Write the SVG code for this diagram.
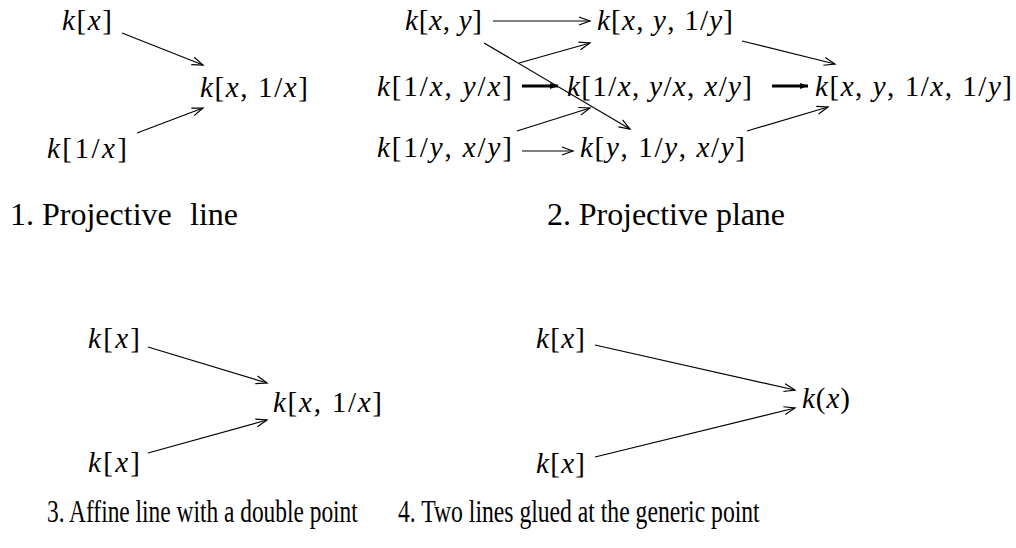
<svg xmlns="http://www.w3.org/2000/svg" width="1016" height="548" viewBox="0 0 1016 548">
<style>
text{font-family:"Liberation Serif","Times New Roman",serif;fill:#000}
.m{font-size:29px}
.i{font-style:italic}
.cap{font-size:32px}
.cap2{font-size:31px}
.c{fill:none;stroke:#000;stroke-width:1.2}
.t{fill:none;stroke:#000;stroke-width:3}
</style>
<defs>
<marker id="a" markerUnits="userSpaceOnUse" markerWidth="16" markerHeight="12" viewBox="-13 -6 16 12" refX="0" refY="0" orient="auto">
<path d="M-11,-4 L0,0 L-11,4" fill="none" stroke="#000" stroke-width="1.2"/>
</marker>
<marker id="b" markerUnits="userSpaceOnUse" markerWidth="14" markerHeight="12" viewBox="-10 -6 12 12" refX="0" refY="0" orient="auto">
<path d="M-8,-3 L0,0 L-8,3 Z" fill="#000"/>
</marker>
</defs>
<g id="p1">
<g id="n1a"><text class="m" x="62" y="30" textLength="50"><tspan class="i">k</tspan>[<tspan class="i">x</tspan>]</text></g>
<g id="n1b"><text class="m" x="200" y="97" textLength="108"><tspan class="i">k</tspan>[<tspan class="i">x</tspan>, 1/<tspan class="i">x</tspan>]</text></g>
<g id="n1c"><text class="m" x="47" y="158" textLength="80"><tspan class="i">k</tspan>[1/<tspan class="i">x</tspan>]</text></g>
</g>
<g id="p2">
<g id="n2a"><text class="m" x="405" y="30" textLength="77"><tspan class="i">k</tspan>[<tspan class="i">x</tspan>, <tspan class="i">y</tspan>]</text></g>
<g id="n2b"><text class="m" x="597" y="30" textLength="136"><tspan class="i">k</tspan>[<tspan class="i">x</tspan>, <tspan class="i">y</tspan>, 1/<tspan class="i">y</tspan>]</text></g>
<g id="n2c"><text class="m" x="377" y="96" textLength="135"><tspan class="i">k</tspan>[1/<tspan class="i">x</tspan>, <tspan class="i">y</tspan>/<tspan class="i">x</tspan>]</text></g>
<g id="n2d"><text class="m" x="567" y="96" textLength="185"><tspan class="i">k</tspan>[1/<tspan class="i">x</tspan>, <tspan class="i">y</tspan>/<tspan class="i">x</tspan>, <tspan class="i">x</tspan>/<tspan class="i">y</tspan>]</text></g>
<g id="n2e"><text class="m" x="815" y="96" textLength="197"><tspan class="i">k</tspan>[<tspan class="i">x</tspan>, <tspan class="i">y</tspan>, 1/<tspan class="i">x</tspan>, 1/<tspan class="i">y</tspan>]</text></g>
<g id="n2f"><text class="m" x="377" y="157" textLength="135"><tspan class="i">k</tspan>[1/<tspan class="i">y</tspan>, <tspan class="i">x</tspan>/<tspan class="i">y</tspan>]</text></g>
<g id="n2g"><text class="m" x="580" y="157" textLength="165"><tspan class="i">k</tspan>[<tspan class="i">y</tspan>, 1/<tspan class="i">y</tspan>, <tspan class="i">x</tspan>/<tspan class="i">y</tspan>]</text></g>
</g>
<g id="p3">
<g id="n3a"><text class="m" x="88" y="348" textLength="52"><tspan class="i">k</tspan>[<tspan class="i">x</tspan>]</text></g>
<g id="n3b"><text class="m" x="273" y="412" textLength="109"><tspan class="i">k</tspan>[<tspan class="i">x</tspan>, 1/<tspan class="i">x</tspan>]</text></g>
<g id="n3c"><text class="m" x="88" y="472" textLength="52"><tspan class="i">k</tspan>[<tspan class="i">x</tspan>]</text></g>
</g>
<g id="p4">
<g id="n4a"><text class="m" x="536" y="348" textLength="49"><tspan class="i">k</tspan>[<tspan class="i">x</tspan>]</text></g>
<g id="n4b"><text class="m" x="802" y="408" textLength="48"><tspan class="i">k</tspan>(<tspan class="i">x</tspan>)</text></g>
<g id="n4c"><text class="m" x="536" y="473" textLength="49"><tspan class="i">k</tspan>[<tspan class="i">x</tspan>]</text></g>
</g>
<g id="connectors">
<line class="c" x1="122" y1="33" x2="203" y2="65" marker-end="url(#a)"/>
<line class="c" x1="137" y1="133" x2="203" y2="108" marker-end="url(#a)"/>
<line class="c" x1="493" y1="21" x2="590" y2="21" marker-end="url(#a)"/>
<line class="c" x1="484" y1="43" x2="630" y2="129" marker-end="url(#a)"/>
<line class="c" x1="519" y1="63" x2="590" y2="43" marker-end="url(#a)"/>
<line class="c" x1="517" y1="131" x2="590" y2="108" marker-end="url(#a)"/>
<line class="t" x1="522" y1="86" x2="558" y2="86" marker-end="url(#b)"/>
<line class="t" x1="772" y1="86" x2="808" y2="86" marker-end="url(#b)"/>
<line class="c" x1="742" y1="41" x2="835" y2="64" marker-end="url(#a)"/>
<line class="c" x1="747" y1="131" x2="828" y2="107" marker-end="url(#a)"/>
<line class="c" x1="522" y1="151" x2="573" y2="151" marker-end="url(#a)"/>
<line class="c" x1="148" y1="347" x2="267" y2="383" marker-end="url(#a)"/>
<line class="c" x1="148" y1="453" x2="267" y2="420" marker-end="url(#a)"/>
<line class="c" x1="595" y1="345" x2="795" y2="390" marker-end="url(#a)"/>
<line class="c" x1="595" y1="457" x2="795" y2="408" marker-end="url(#a)"/>
</g>
<g id="captions">
<text class="cap" x="10" y="225">1. Projective</text>
<text class="cap" x="190" y="225">line</text>
<text class="cap" x="547" y="225" textLength="238">2. Projective plane</text>
<text class="cap2" transform="translate(47,522) scale(0.755,1)">3. Affine line with a double point</text>
<text class="cap2" transform="translate(398,522) scale(0.763,1)">4. Two lines glued at the generic point</text>
</g>
</svg>
